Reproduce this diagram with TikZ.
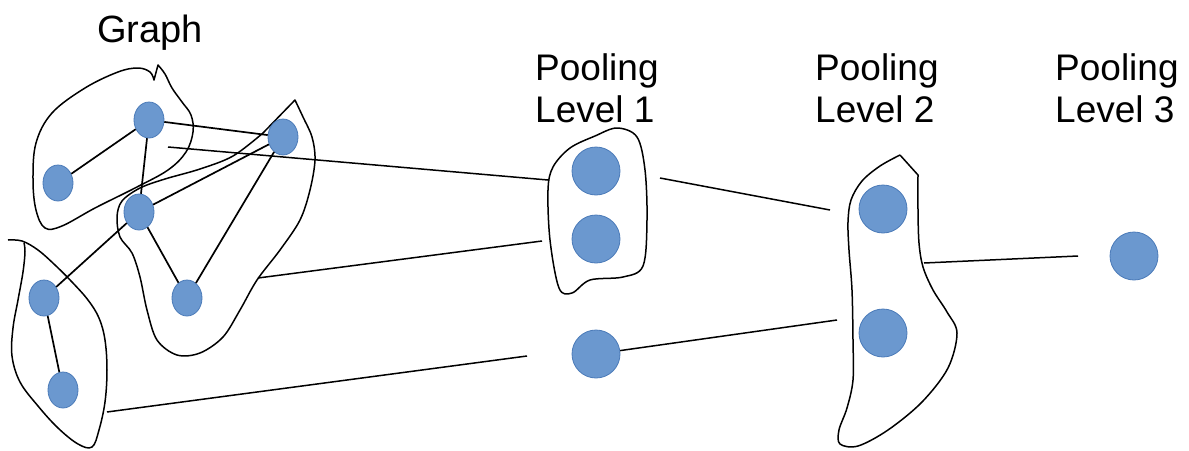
\documentclass[tikz,border=0pt]{standalone}
\usepackage{fontspec}
\setmainfont{Liberation Sans}
\usetikzlibrary{shapes.geometric}

\definecolor{nodefill}{HTML}{6B98CF}
\definecolor{nodeline}{HTML}{4A7AB8}

\tikzset{
  vert/.style={ellipse, fill=nodefill, draw=nodeline, line width=0.8pt,
               minimum width=30pt, minimum height=36pt, inner sep=0pt},
  pool/.style={circle, fill=nodefill, draw=nodeline, line width=0.8pt,
               minimum size=48pt, inner sep=0pt},
  edge/.style={draw=black, line width=1.7pt},
  blob/.style={draw=black, line width=1.5pt, line join=round},
  link/.style={draw=black, line width=1.5pt},
  caption/.style={anchor=base west, inner sep=0pt,
                  font=\fontsize{37}{44}\selectfont}
}

\begin{document}
\begin{tikzpicture}[x=1pt, y=-1pt]
\useasboundingbox (0,0) rectangle (1189,450);

% captions
\node[caption, font=\fontsize{38}{45}\selectfont] (tg) at (97,42) {Graph};
\node[caption] (t1a) at (535,80) {Pooling};
\node[caption] (t1b) at (535,122) {Level 1};
\node[caption] (t2a) at (815,80) {Pooling};
\node[caption] (t2b) at (815,122) {Level 2};
\node[caption] (t3a) at (1055,80) {Pooling};
\node[caption] (t3b) at (1055,122) {Level 3};

% clusters around the input graph
\draw[blob] plot[smooth, tension=0.6] coordinates {
  (158,65) (165,74) (172,88) (182,102) (191,115) (193,132) (186,152)
  (168,170) (135,188) (95,208) (62,226) (45,228) (36,210) (33,180)
  (36,143) (52,113) (85,88) (118,72) (138,68) (150,72) (154,80)} -- cycle;
\draw[blob] plot[smooth, tension=0.55] coordinates {
  (295,100) (303,117) (312,137) (315,160) (310,190) (300,220) (280,250)
  (257,280) (240,310) (223,337) (200,353) (177,355) (157,340) (147,310)
  (140,277) (132,253) (120,237) (117,217) (122,201) (140,188) (165,179)
  (200,169) (233,156) (263,133)} -- cycle;
\draw[blob] plot[smooth, tension=0.6] coordinates {
  (8,240) (22,241) (38,250) (55,265) (72,282) (88,300) (99,318) (105,340)
  (107,370) (105,402) (99,430) (92,447) (78,444) (58,428) (38,406)
  (20,382) (12,356) (13,328) (18,300) (23,272) (25,252) (24,243)};

% first pooling cluster
\draw[blob] plot[smooth cycle, tension=0.55] coordinates {
  (617,128) (637,137) (645,170) (647,220) (643,266) (623,277) (590,280)
  (572,293) (559,288) (550,240) (548,190) (553,167) (570,148) (595,136)};

% second pooling cluster
\draw[blob] (900,155) -- plot[smooth, tension=0.55] coordinates {
  (918,175) (918,210) (919,243) (923,267) (933,290) (947,312) (957,333)
  (948,368) (922,402) (888,430) (858,446) (840,444) (839,430) (847,408)
  (853,380) (853,340) (852,290) (849,250) (848,222) (851,200) (862,181)
  (880,166) (900,155)};

% input graph vertices
\node[vert] (a) at (58,183) {};
\node[vert] (b) at (149,120) {};
\node[vert] (c) at (283,137) {};
\node[vert] (d) at (139,212) {};
\node[vert] (e) at (187,298) {};
\node[vert] (f) at (44,298) {};
\node[vert] (g) at (63,390) {};

% input graph edges
\draw[edge] (a) -- (b);
\draw[edge] (b) -- (c);
\draw[edge] (b) -- (d);
\draw[edge] (d) -- (c);
\draw[edge] (c) -- (e);
\draw[edge] (d) -- (e);
\draw[edge] (d) -- (f);
\draw[edge] (f) -- (g);

% pooled vertices
\node[pool] (p1a) at (596,171) {};
\node[pool] (p1b) at (596,239) {};
\node[pool] (p1c) at (596,354) {};
\node[pool] (p2a) at (883,209) {};
\node[pool] (p2b) at (883,333) {};
\node[pool] (p3)  at (1134,256) {};

% ends of the pooling links
\coordinate (s1) at (168,147);
\coordinate (e1) at (548,180);
\coordinate (s2) at (258,278);
\coordinate (e2) at (542,241);
\coordinate (s3) at (107,412);
\coordinate (e3) at (527,356);
\coordinate (s4) at (660,178);
\coordinate (e4) at (830,210);
\coordinate (e5) at (837,320);
\coordinate (s6) at (924,263);
\coordinate (e6) at (1078,256);

\draw[link] (s1) -- (e1);
\draw[link] (s2) -- (e2);
\draw[link] (s3) -- (e3);
\draw[link] (s4) -- (e4);
\draw[link] (p1c) -- (e5);
\draw[link] (s6) -- (e6);
\end{tikzpicture}
\end{document}
